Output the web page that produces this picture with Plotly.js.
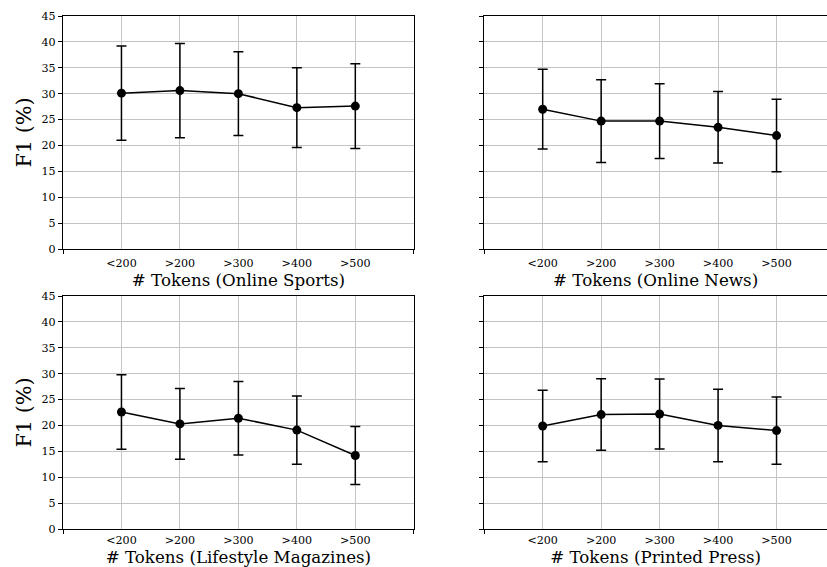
<!DOCTYPE html>
<html><head><meta charset="utf-8">
<script src="https://cdn.plot.ly/plotly-3.0.1.min.js"></script>
<style>html,body{margin:0;padding:0;background:#fff}#c{width:827px;height:567px}</style>
</head><body><div id="c"></div>
<script>
const categories = ['<200', '>200', '>300', '>400', '>500'];
const sportsMean = [30.1, 30.6, 30.0, 27.3, 27.6];
const sportsErr  = [9.1, 9.1, 8.1, 7.7, 8.2];
const newsMean = [27.0, 24.7, 24.7, 23.5, 21.9];
const newsErr  = [7.7, 8.0, 7.2, 6.9, 7.0];
const lifestyleMean = [22.6, 20.3, 21.4, 19.1, 14.2];
const lifestyleErr  = [7.2, 6.85, 7.1, 6.6, 5.6];
const pressMean = [19.9, 22.1, 22.2, 20.0, 19.0];
const pressErr  = [6.9, 6.9, 6.75, 7.0, 6.5];
const panelTitles = ['# Tokens (Online Sports)', '# Tokens (Online News)', '# Tokens (Lifestyle Magazines)', '# Tokens (Printed Press)'];
const yTicks = [0, 5, 10, 15, 20, 25, 30, 35, 40, 45];

const xIdx = categories.map((c, i) => i);
const series = [[sportsMean, sportsErr], [newsMean, newsErr], [lifestyleMean, lifestyleErr], [pressMean, pressErr]];
const axisIds = [['x', 'y'], ['x2', 'y2'], ['x3', 'y3'], ['x4', 'y4']];

const traces = series.map((s, k) => ({
  type: 'scatter', mode: 'lines+markers',
  x: xIdx, y: s[0],
  xaxis: axisIds[k][0], yaxis: axisIds[k][1],
  line: {color: '#000', width: 1.5},
  marker: {color: '#000', size: 9},
  error_y: {type: 'data', array: s[1], visible: true, color: '#000', thickness: 1.5, width: 5},
  showlegend: false, hoverinfo: 'skip'
}));

const FAM = 'DejaVu Serif';
const font = {family: FAM, color: '#000'};
const W = 827, H = 567, mL = 62.5, mT = 16, mB = 38;
const pw = W - mL, ph = H - mT - mB;
const leftDom = [0, 351 / pw];
const rightDom = [(484 - mL) / pw, 1];
const rightMax = -1 + (W - 484) / 58.5;
const topDom = [(529 - 249) / ph, 1];
const botDom = [0, (529 - 296) / ph];

function xax(k, dom, rng, anchor, mirror, tso) {
  return {
    domain: dom, range: rng, anchor: anchor,
    tickmode: 'array', tickvals: xIdx, ticktext: categories, ticks: '',
    ticklabelstandoff: tso,
    tickfont: {family: FAM, size: 11.1, color: '#000'},
    showgrid: true, gridcolor: '#c4c4c4', gridwidth: 1,
    showline: true, linecolor: '#000', linewidth: 1.2, mirror: mirror,
    zeroline: false,
    minor: {tickmode: 'array', tickvals: [-1, 5], ticks: 'outside', ticklen: 4, tickcolor: '#000', tickwidth: 1, showgrid: false},
    title: {text: panelTitles[k], font: {family: FAM, size: 16.7, color: '#000'}, standoff: 2}
  };
}
function yax(dom, anchor, labels, mirror) {
  return {
    domain: dom, range: [0, 45], anchor: anchor,
    tickmode: 'array', tickvals: yTicks, ticks: 'outside', ticklen: 4, tickcolor: '#000', tickwidth: 1,
    showticklabels: labels,
    tickfont: {family: FAM, size: 11.1, color: '#000'},
    showgrid: true, gridcolor: '#c4c4c4', gridwidth: 1,
    showline: true, linecolor: '#000', linewidth: 1.2, mirror: mirror,
    zeroline: false,
    title: labels ? {text: 'F1 (%)', font: {family: FAM, size: 20.8, color: '#000'}, standoff: 4} : {text: ''}
  };
}

const layout = {
  width: W, height: H,
  margin: {l: mL, r: 0, t: mT, b: mB, pad: 0},
  paper_bgcolor: '#fff', plot_bgcolor: '#fff',
  font: font, showlegend: false,
  xaxis: xax(0, leftDom, [-1, 5], 'y', true, 3),
  yaxis: yax(topDom, 'x', true, true),
  xaxis2: xax(1, rightDom, [-1, rightMax], 'y2', true, 3),
  yaxis2: yax(topDom, 'x2', false, false),
  xaxis3: xax(2, leftDom, [-1, 5], 'y3', true, 0),
  yaxis3: yax(botDom, 'x3', true, true),
  xaxis4: xax(3, rightDom, [-1, rightMax], 'y4', true, 0),
  yaxis4: yax(botDom, 'x4', false, false)
};

Plotly.newPlot('c', traces, layout, {staticPlot: true, displayModeBar: false});
</script>
</body></html>
